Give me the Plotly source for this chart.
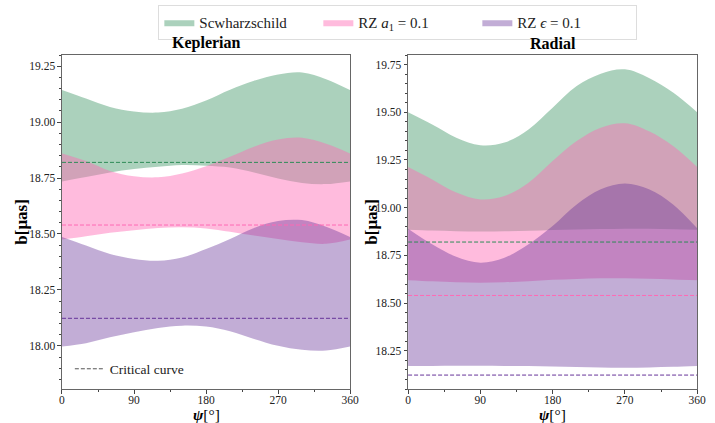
import plotly.graph_objects as go

# ---------------- data ----------------
psi = [0, 30, 60, 90, 120, 150, 180, 210, 240, 270, 300, 330, 360]

# Keplerian
kep_green_up = [19.143, 19.105, 19.068, 19.048, 19.043, 19.060, 19.097, 19.145, 19.185, 19.213, 19.222, 19.192, 19.143]
kep_green_lo = [18.735, 18.755, 18.775, 18.790, 18.800, 18.808, 18.805, 18.797, 18.775, 18.748, 18.728, 18.723, 18.735]
kep_pink_up = [18.860, 18.826, 18.782, 18.758, 18.753, 18.770, 18.803, 18.845, 18.890, 18.922, 18.930, 18.903, 18.860]
kep_pink_lo = [18.475, 18.490, 18.505, 18.517, 18.527, 18.530, 18.525, 18.510, 18.493, 18.477, 18.463, 18.456, 18.475]
kep_purple_up = [18.486, 18.448, 18.410, 18.388, 18.380, 18.395, 18.433, 18.478, 18.527, 18.558, 18.562, 18.532, 18.486]
kep_purple_lo = [17.997, 18.012, 18.038, 18.061, 18.080, 18.090, 18.086, 18.065, 18.031, 18.000, 17.982, 17.979, 17.997]

# Radial
rad_green_up = [19.500, 19.436, 19.367, 19.327, 19.341, 19.410, 19.524, 19.637, 19.702, 19.725, 19.680, 19.603, 19.500]
rad_green_lo = [18.885, 18.880, 18.877, 18.875, 18.876, 18.879, 18.883, 18.886, 18.888, 18.890, 18.889, 18.887, 18.885]
rad_pink_up = [19.213, 19.148, 19.079, 19.043, 19.061, 19.131, 19.244, 19.349, 19.419, 19.442, 19.400, 19.323, 19.213]
rad_pink_lo = [18.620, 18.614, 18.609, 18.607, 18.609, 18.615, 18.622, 18.627, 18.630, 18.630, 18.628, 18.624, 18.620]
rad_purple_up = [18.890, 18.808, 18.743, 18.712, 18.738, 18.808, 18.904, 19.017, 19.096, 19.127, 19.096, 19.017, 18.892]
rad_purple_lo = [18.170, 18.171, 18.172, 18.172, 18.171, 18.170, 18.168, 18.165, 18.162, 18.161, 18.163, 18.166, 18.170]

# critical curves
crit_green = 18.82
crit_pink = 18.54
crit_purple = 18.123

series_names = ["Scwharzschild", "RZ <i>a</i><sub>1</sub> = 0.1", "RZ <i>ϵ</i> = 0.1"]
panel_titles = ["Keplerian", "Radial"]
x_ticks = [0, 90, 180, 270, 360]

# ---------------- styles ----------------
fills = ["rgba(46,139,87,0.4)", "rgba(255,105,180,0.45)", "rgba(102,51,153,0.4)"]
lines = ["rgb(46,139,87)", "rgb(255,105,180)", "rgb(102,51,153)"]
FONT = "Liberation Serif"
DASH = "4px,2px"

fig = go.Figure()

panels = [
    ("x", "y", [(kep_green_lo, kep_green_up), (kep_pink_lo, kep_pink_up), (kep_purple_lo, kep_purple_up)]),
    ("x2", "y2", [(rad_green_lo, rad_green_up), (rad_pink_lo, rad_pink_up), (rad_purple_lo, rad_purple_up)]),
]
crits = [crit_green, crit_pink, crit_purple]

for pi, (xa, ya, bands) in enumerate(panels):
    for k, (lo, up) in enumerate(bands):
        fig.add_trace(go.Scatter(x=psi, y=lo, xaxis=xa, yaxis=ya, mode="lines",
                                 line=dict(width=0, shape="spline"), showlegend=False,
                                 hoverinfo="skip"))
        fig.add_trace(go.Scatter(x=psi, y=up, xaxis=xa, yaxis=ya, mode="lines",
                                 line=dict(width=0, shape="spline"), fill="tonexty",
                                 fillcolor=fills[k], name=series_names[k],
                                 showlegend=(pi == 0), legend="legend"))
    for k, c in enumerate(crits):
        fig.add_trace(go.Scatter(x=[psi[0], psi[-1]], y=[c, c], xaxis=xa, yaxis=ya, mode="lines",
                                 line=dict(color=lines[k], width=1, dash=DASH),
                                 showlegend=False))

# dummy legend entry for critical curve
fig.add_trace(go.Scatter(x=[None], y=[None], mode="lines", xaxis="x", yaxis="y",
                         line=dict(color="#555555", width=1, dash=DASH),
                         name="Critical curve", showlegend=True, legend="legend2"))

W, H = 715, 423
def px(x): return x / W
def py(y): return 1 - y / H

axis_common = dict(showline=True, linecolor="#666666", linewidth=1, mirror=True,
                   ticks="outside", ticklen=3.5, tickcolor="#444444", showgrid=False,
                   zeroline=False, tickfont=dict(family=FONT, size=11.5, color="#222222"))

xcommon = dict(axis_common, range=[0, 360], tickvals=x_ticks, ticklabelstandoff=-3,
               minor=dict(dtick=45, ticks="outside", ticklen=2, tickcolor="#444444"))
ycommon = dict(axis_common, dtick=0.25, tickformat=".2f",
               minor=dict(dtick=0.05, ticks="outside", ticklen=2, tickcolor="#444444"))

plot_left = [60, 412]
plot_right = [353, 706]
ylab_offset = [42, 38]
annotations = []
for i in range(2):
    cx = (plot_left[i] + plot_right[i]) / 2
    annotations.append(dict(text="<b>%s</b>" % panel_titles[i], x=px(cx), y=py(43.5),
                            xref="paper", yref="paper", xanchor="center", yanchor="middle",
                            showarrow=False, font=dict(family=FONT, size=16, color="black")))
    annotations.append(dict(text="<b><i>ψ</i></b>[°]", x=px(cx), y=py(414),
                            xref="paper", yref="paper", xanchor="center", yanchor="middle",
                            showarrow=False, font=dict(family=FONT, size=15.5, color="black")))
    annotations.append(dict(text="<b>b[μas]</b>", x=px(plot_left[i] - ylab_offset[i]), y=py(222),
                            xref="paper", yref="paper", xanchor="center", yanchor="middle",
                            textangle=-90, showarrow=False,
                            font=dict(family=FONT, size=17, color="black")))

fig.update_layout(
    width=W, height=H, margin=dict(l=0, r=0, t=0, b=0),
    plot_bgcolor="white", paper_bgcolor="white",
    xaxis=dict(xcommon, domain=[px(60), px(353)], anchor="y"),
    yaxis=dict(ycommon, domain=[py(389), py(55)], range=[17.807, 19.30], anchor="x"),
    xaxis2=dict(xcommon, domain=[px(412), px(706)], anchor="y2"),
    yaxis2=dict(ycommon, domain=[py(389), py(55)], range=[18.05, 19.80], anchor="x2"),
    legend=dict(orientation="h", x=px(158), xanchor="left", y=py(5), yanchor="top",
                bordercolor="#dddddd", borderwidth=1, bgcolor="white",
                font=dict(family=FONT, size=15, color="#222222"),
                itemwidth=30, traceorder="normal", entrywidth=114, entrywidthmode="pixels"),
    legend2=dict(x=px(68), xanchor="left", y=py(369), yanchor="middle",
                 bgcolor="rgba(0,0,0,0)", borderwidth=0,
                 font=dict(family=FONT, size=13.5, color="#222222")),
    annotations=annotations,
)

fig.write_html("out.html")
